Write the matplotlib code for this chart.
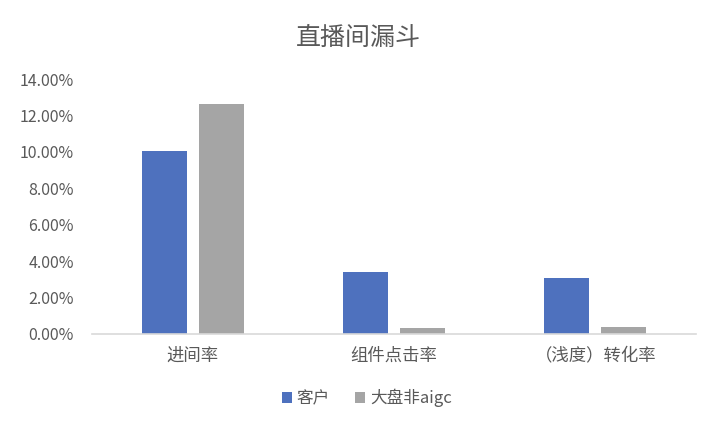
import matplotlib.pyplot as plt
import numpy as np
from matplotlib.ticker import PercentFormatter

plt.rcParams['font.family'] = ['Noto Sans CJK SC', 'DejaVu Sans']

categories = ["进间率", "组件点击率", "（浅度）转化率"]
series_names = ["客户", "大盘非aigc"]
kehu = [10.05, 3.42, 3.1]
dapan = [12.65, 0.35, 0.38]
colors = ["#4E71BE", "#A5A5A5"]
text_color = "#595959"

fig = plt.figure(figsize=(7.16, 4.29), dpi=100)
ax = fig.add_axes([92 / 716, 1 - 334 / 429, (696 - 92) / 716, (334 - 79) / 429])

x = np.arange(len(categories))
width = 0.224
offset = 0.142
ax.bar(x - offset, kehu, width, color=colors[0], label=series_names[0])
ax.bar(x + offset, dapan, width, color=colors[1], label=series_names[1])

ax.set_xlim(-0.5, 2.5)
ax.set_ylim(0, 14)
ax.set_yticks(np.arange(0, 15, 2))
ax.yaxis.set_major_formatter(PercentFormatter(decimals=2))
ax.set_xticks(x)
ax.set_xticklabels(categories)
ax.tick_params(axis='both', length=0, colors=text_color)
ax.tick_params(axis='x', pad=9, labelsize=12.5)
ax.tick_params(axis='y', pad=13, labelsize=11.5)
for s in ['top', 'right', 'left']:
    ax.spines[s].set_visible(False)
ax.spines['bottom'].set_color("#D9D9D9")
ax.spines['bottom'].set_linewidth(1.2)

fig.suptitle("直播间漏斗", x=0.5, y=1 - 38 / 429, va='center', fontsize=18, color=text_color)
fig.legend(loc='center', bbox_to_anchor=(0.512, 1 - 398 / 429), ncol=2, frameon=False,
           fontsize=12, labelcolor=text_color, handlelength=0.6, handleheight=0.6,
           handletextpad=0.3, columnspacing=1.5)

fig.savefig("out.png", dpi=100)
